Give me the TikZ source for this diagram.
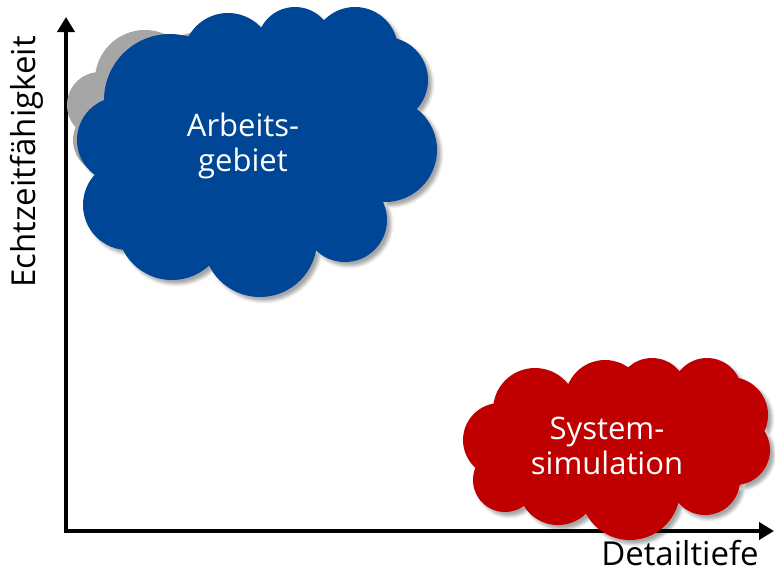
\documentclass[tikz,border=0pt]{standalone}
\usepackage{fontspec}
\setmainfont{Open Sans}
\usetikzlibrary{arrows.meta,shadows.blur}
\definecolor{cloudblue}{RGB}{0,70,150}
\definecolor{cloudred}{RGB}{192,0,0}
\definecolor{cloudgray}{RGB}{166,166,166}
\tikzset{
  axisline/.style={line width=4pt, line join=miter, {Triangle[length=15pt,width=17pt]}-{Triangle[length=15pt,width=17pt]}},
  cloudtext/.style={white, align=center, font=\fontsize{31}{35}\selectfont},
  axislabel/.style={black, inner sep=0pt, font=\fontsize{33}{38}\selectfont},
  cloudshadow/.style={blur shadow={shadow xshift=4pt, shadow yshift=-4pt, shadow blur radius=3pt, shadow opacity=35}}
}
\begin{document}
\begin{tikzpicture}[x=1pt,y=-1pt]
\useasboundingbox (0,0) rectangle (775,574);
% axes
\coordinate (O) at (66,531);
\coordinate (ytip) at (66,17);
\coordinate (xtip) at (774,531);
\draw[axisline] (ytip) -- (O) -- (xtip);
% gray cloud behind blue
\fill[cloudgray] foreach \cx/\cy/\r in {100/105/33,145/80/50,200/80/48,106/140/33} {(\cx,\cy) circle[radius=\r]};
% blue cloud
\fill[cloudblue, cloudshadow] foreach \cx/\cy/\r in {170/100/66,228/58/45,295/45/38,355/50/43,385/80/43,385/150/52,345/220/42,260/240/57,172/225/55,128/205/45,120/140/43} {(\cx,\cy) circle[radius=\r]} (255,150) ellipse[x radius=120, y radius=90];
% red cloud
\fill[cloudred, cloudshadow] foreach \cx/\cy/\r in {535/410/42,605/400/40,652/393/35,707/393/35,730/415/38,735/450/35,705/480/35,630/490/50,558/485/40,505/480/32,500/440/37} {(\cx,\cy) circle[radius=\r]} (615,445) ellipse[x radius=110, y radius=55];
% texts
\node[cloudtext] (arbeit) at (243,146) {Arbeits-\\gebiet};
\node[cloudtext] (system) at (607,446) {System-\\simulation};
\node[axislabel, rotate=90, anchor=base] (ylabel) at (35,162) {Echtzeitfähigkeit};
\node[axislabel, anchor=base] (xlabel) at (680,565) {Detailtiefe};
\end{tikzpicture}
\end{document}
